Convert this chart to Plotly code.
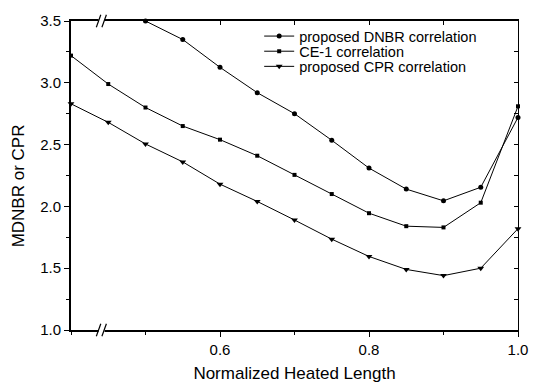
import plotly.graph_objects as go

# ---- data ----
x_dnbr = [0.50, 0.55, 0.60, 0.65, 0.70, 0.75, 0.80, 0.85, 0.90, 0.95, 1.00]
dnbr = [3.50, 3.35, 3.125, 2.92, 2.75, 2.535, 2.31, 2.14, 2.045, 2.155, 2.72]

x_all = [0.40, 0.45, 0.50, 0.55, 0.60, 0.65, 0.70, 0.75, 0.80, 0.85, 0.90, 0.95, 1.00]
ce1 = [3.22, 2.99, 2.80, 2.65, 2.54, 2.41, 2.255, 2.10, 1.945, 1.84, 1.83, 2.03, 2.81]
cpr = [2.83, 2.68, 2.505, 2.36, 2.18, 2.04, 1.89, 1.735, 1.595, 1.49, 1.44, 1.50, 1.82]

names = ["proposed DNBR correlation", "CE-1 correlation", "proposed CPR correlation"]
x_tickvals = [0.6, 0.8, 1.0]
x_ticktext = ["0.6", "0.8", "1.0"]
y_tickvals = [1.0, 1.5, 2.0, 2.5, 3.0, 3.5]
y_ticktext = ["1.0", "1.5", "2.0", "2.5", "3.0", "3.5"]

FONT = "Liberation Sans, Arial, sans-serif"

fig = go.Figure()
fig.add_trace(go.Scatter(x=x_dnbr, y=dnbr, name=names[0], mode="lines+markers",
                         line=dict(color="black", width=1),
                         marker=dict(symbol="circle", size=5, color="black"),
                         cliponaxis=False, legend="legend"))
fig.add_trace(go.Scatter(x=x_all, y=ce1, name=names[1], mode="lines+markers",
                         line=dict(color="black", width=1),
                         marker=dict(symbol="square", size=4, color="black"),
                         cliponaxis=False, legend="legend2"))
fig.add_trace(go.Scatter(x=x_all, y=cpr, name=names[2], mode="lines+markers",
                         line=dict(color="black", width=1),
                         marker=dict(symbol="triangle-down", size=6, color="black"),
                         cliponaxis=False, legend="legend3"))

axis_common = dict(showgrid=False, zeroline=False, linecolor="black", linewidth=1.8,
                   tickcolor="black", tickfont=dict(family=FONT, size=15, color="black"))

def leg(ypaper):
    return dict(x=0.421, y=ypaper, xanchor="left", yanchor="middle",
                bgcolor="rgba(0,0,0,0)", borderwidth=0,
                font=dict(family=FONT, size=14.5, color="black"),
                itemwidth=30)

fig.update_layout(
    width=540, height=392,
    margin=dict(l=71, r=22, t=15, b=50),
    paper_bgcolor="white", plot_bgcolor="white",
    font=dict(family=FONT, color="black"),
    showlegend=True,
    legend=leg(0.951),
    legend2=leg(0.902),
    legend3=leg(0.853),
    xaxis=dict(range=[0.4, 1.0], tickvals=x_tickvals, ticktext=x_ticktext,
               ticks="outside", ticklen=5, tickwidth=1.2,
               minor=dict(dtick=0.1, tick0=0.4, ticks="outside", ticklen=3, tickcolor="black"),
               title=dict(text="Normalized Heated Length", font=dict(family=FONT, size=17), standoff=10),
               showline=True, **axis_common),
    yaxis=dict(range=[1.0, 3.5], tickvals=y_tickvals, ticktext=y_ticktext,
               ticks="outside", ticklen=5, tickwidth=1.2,
               minor=dict(dtick=0.25, tick0=1.0, ticks="outside", ticklen=3, tickcolor="black"),
               showline=True, **axis_common),
    xaxis2=dict(range=[0.4, 1.0], overlaying="x", side="top", tickvals=[0.6, 0.7, 0.8, 0.9],
                ticks="inside", ticklen=4, showticklabels=False, showline=True,
                showgrid=False, zeroline=False, linecolor="black", linewidth=1.8, tickcolor="black"),
    yaxis2=dict(range=[1.0, 3.5], overlaying="y", side="right", dtick=0.25, tick0=1.0,
                ticks="inside", ticklen=4, showticklabels=False, showline=True,
                showgrid=False, zeroline=False, linecolor="black", linewidth=1.2, tickcolor="black"),
)

# y-axis title placed as a rotated annotation
fig.add_annotation(text="MDNBR or CPR", xref="paper", yref="paper", x=-0.1186, y=0.468,
                   xanchor="center", yanchor="middle", textangle=-90, showarrow=False,
                   font=dict(family=FONT, size=17, color="black"))

# dummy invisible trace to activate the mirror axes
fig.add_trace(go.Scatter(x=[None], y=[None], xaxis="x2", yaxis="y2", showlegend=False,
                         hoverinfo="skip"))

# axis-break marks "//" on top and bottom axes
for yb in (0.0, 1.0):
    fig.add_shape(type="rect", xref="x", yref="paper", x0=0.437, x1=0.445,
                  y0=yb - 0.01, y1=yb + 0.01, fillcolor="white", line=dict(width=0), layer="above")
    for xo in (0.437, 0.4445):
        fig.add_shape(type="line", xref="x", yref="paper", x0=xo - 0.003, x1=xo + 0.003,
                      y0=yb - 0.02, y1=yb + 0.02, line=dict(color="black", width=1.2), layer="above")

fig.write_html("out.html")
